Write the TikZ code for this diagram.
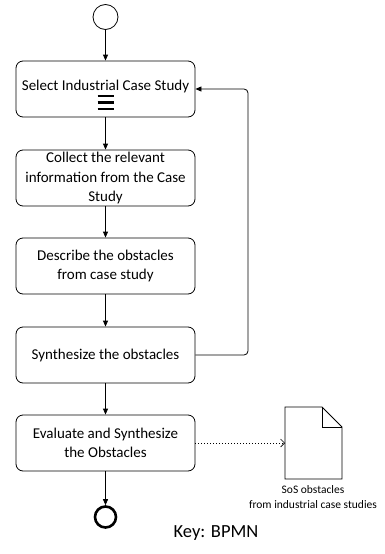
\documentclass[tikz,border=0pt]{standalone}
\usepackage{fontspec}
\setmainfont{Carlito}
\usetikzlibrary{arrows.meta}
\begin{document}
\begin{tikzpicture}[x=1pt,y=-1pt,line width=0.8pt]
\tikzset{
    task/.style={draw, rounded corners=7pt, minimum width=179pt, minimum height=56pt,
        align=center, inner sep=2pt, font=\fontsize{15}{19.5}\selectfont},
    flow/.style={draw, -{Triangle[length=6pt,width=5pt]}},
    assoc/.style={draw, line width=0.6pt, dash pattern=on 0.6pt off 2.4pt, -{Straight Barb[length=4pt,width=8pt]}},
    doclabel/.style={align=center, font=\fontsize{11.5}{15}\selectfont}}
\def\xmid{105.5}
\def\fold{20}

\useasboundingbox (0,0) rectangle (385,554);

% events
\node[draw, circle, minimum size=25pt, inner sep=0pt] (start) at (\xmid,17) {};
\node[draw, circle, line width=2.6pt, minimum size=21pt, inner sep=0pt] (end) at (\xmid,517) {};

% tasks
\node[task, text depth=7.5pt] (select) at (\xmid,89) {Select Industrial Case Study};
\node[task] (collect) at (\xmid,178) {Collect the relevant\\information from the Case\\Study};
\node[task] (describe) at (\xmid,266) {Describe the obstacles\\from case study};
\node[task] (synth) at (\xmid,355) {Synthesize the obstacles};
\node[task] (eval) at (\xmid,443) {Evaluate and Synthesize\\the Obstacles};

% loop marker
\foreach \y in {96,102.5,109}{
    \draw[line width=2.2pt] (\xmid-8,\y)--++(16,0);
}

% data object
\coordinate (docNW) at (285,407);
\draw[fill=white] (docNW)--++(57-\fold,0)--++(\fold,\fold)--++(0,72-\fold)--++(-57,0)--cycle;
\draw (docNW)++(57-\fold,0)--++(0,\fold)--++(\fold,0);
\coordinate (docW) at (285,443);
\node[doclabel] (doctext) at (313,497) {SoS obstacles\\from industrial case studies};

% flows
\draw[flow] (start)--(select);
\draw[flow] (select)--(collect);
\draw[flow] (collect)--(describe);
\draw[flow] (describe)--(synth);
\draw[flow] (synth)--(eval);
\draw[flow] (eval)--(end);
\draw[flow, rounded corners=4pt] (synth.east)--(248,355)--(248,89)--(select.east);
\draw[assoc] (eval.east)--(docW);

\node[font=\fontsize{18.5}{22}\selectfont] (key) at (216,533) {Key: BPMN};
\end{tikzpicture}
\end{document}
